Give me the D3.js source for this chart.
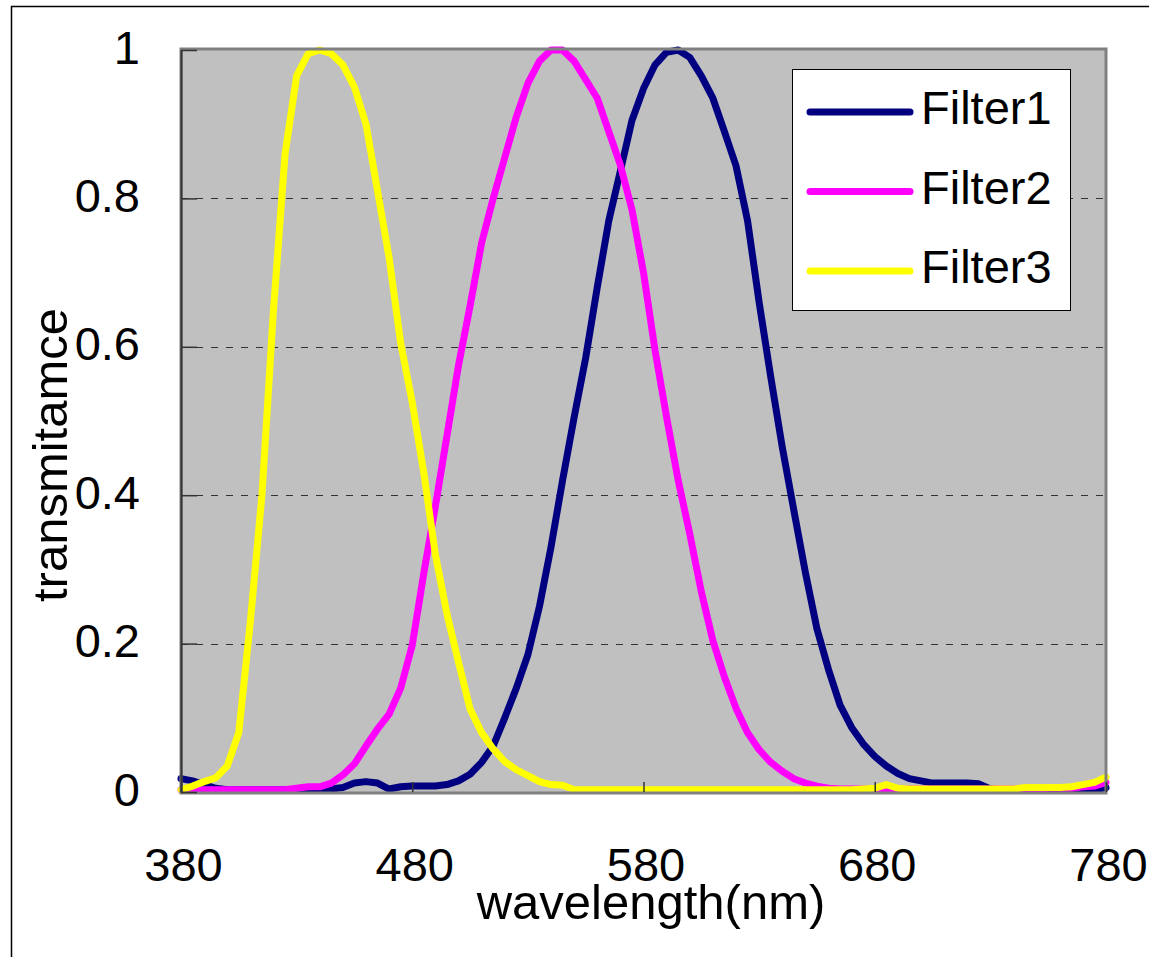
<!DOCTYPE html>
<html>
<head>
<meta charset="utf-8">
<script src="https://cdn.jsdelivr.net/npm/d3@7"></script>
<style>
  body { margin: 0; background: #fff; }
  text { font-family: "Liberation Sans", Arial, sans-serif; fill: #000; }
</style>
</head>
<body>
<div id="chart"></div>
<script>
// sample wavelengths (nm)
const wavelengths = [
  380, 385, 390, 395, 400, 405, 410, 415, 420, 425, 430, 435, 440, 445, 450, 455, 460, 465, 470, 475,
  480, 485, 490, 495, 500, 505, 510, 515, 520, 525, 530, 535, 540, 545, 550, 555, 560, 565, 570, 575,
  580, 585, 590, 595, 600, 605, 610, 615, 620, 625, 630, 635, 640, 645, 650, 655, 660, 665, 670, 675,
  680, 685, 690, 695, 700, 705, 710, 715, 720, 725, 730, 735, 740, 745, 750, 755, 760, 765, 770, 775,
  780
];

const filter1 = [
  0.018, 0.015, 0.010, 0.005, 0.003, 0.003, 0.003, 0.003, 0.003, 0.003,
  0.003, 0.003, 0.003, 0.004, 0.006, 0.012, 0.014, 0.012, 0.004, 0.007,
  0.008, 0.008, 0.008, 0.010, 0.015, 0.024, 0.040, 0.062, 0.100, 0.140,
  0.185, 0.250, 0.330, 0.420, 0.505, 0.585, 0.680, 0.770, 0.837, 0.905,
  0.948, 0.980, 0.997, 1.000, 0.990, 0.965, 0.935, 0.890, 0.844, 0.770,
  0.660, 0.560, 0.465, 0.380, 0.296, 0.220, 0.165, 0.117, 0.087, 0.065,
  0.048, 0.035, 0.025, 0.018, 0.015, 0.012, 0.012, 0.012, 0.012, 0.011,
  0.004, 0.003, 0.003, 0.003, 0.003, 0.003, 0.003, 0.003, 0.003, 0.003,
  0.006
];

const filter2 = [
  0.003, 0.003, 0.003, 0.003, 0.003, 0.003, 0.003, 0.003, 0.003, 0.003,
  0.005, 0.007, 0.007, 0.012, 0.023, 0.038, 0.062, 0.085, 0.105, 0.140,
  0.198, 0.295, 0.385, 0.480, 0.575, 0.655, 0.740, 0.800, 0.855, 0.910,
  0.955, 0.985, 1.000, 1.000, 0.985, 0.960, 0.935, 0.890, 0.845, 0.785,
  0.700, 0.595, 0.505, 0.420, 0.348, 0.270, 0.204, 0.155, 0.113, 0.080,
  0.057, 0.040, 0.028, 0.018, 0.012, 0.008, 0.005, 0.004, 0.004, 0.004,
  0.004, 0.004, 0.004, 0.004, 0.004, 0.004, 0.004, 0.004, 0.004, 0.004,
  0.004, 0.004, 0.004, 0.004, 0.004, 0.005, 0.005, 0.005, 0.007, 0.008,
  0.013
];

const filter3 = [
  0.003, 0.008, 0.014, 0.019, 0.035, 0.080, 0.230, 0.400, 0.650, 0.860,
  0.965, 0.995, 1.000, 0.995, 0.980, 0.950, 0.900, 0.810, 0.720, 0.605,
  0.525, 0.430, 0.320, 0.240, 0.175, 0.112, 0.080, 0.058, 0.041, 0.030,
  0.022, 0.014, 0.010, 0.009, 0.003, 0.003, 0.003, 0.003, 0.003, 0.003,
  0.003, 0.003, 0.003, 0.003, 0.003, 0.003, 0.003, 0.003, 0.003, 0.003,
  0.003, 0.003, 0.003, 0.003, 0.003, 0.003, 0.003, 0.003, 0.003, 0.004,
  0.005, 0.010, 0.005, 0.004, 0.004, 0.004, 0.004, 0.004, 0.004, 0.004,
  0.004, 0.004, 0.004, 0.006, 0.006, 0.006, 0.006, 0.007, 0.010, 0.013,
  0.020
];

const seriesNames = ["Filter1", "Filter2", "Filter3"];
const seriesColors = ["#000080", "#ff00ff", "#ffff00"];
const xTicks = [380, 480, 580, 680, 780];
const yTicks = [0, 0.2, 0.4, 0.6, 0.8, 1];
const yTickLabels = ["0", "0.2", "0.4", "0.6", "0.8", "1"];

const series = [filter1, filter2, filter3];

const width = 1149;
const height = 957;
const plot = { left: 181, right: 1106, top: 50, bottom: 792 };
const fontSize = 47;

const svg = d3
  .select("#chart")
  .append("svg")
  .attr("width", width)
  .attr("height", height);

// outer chart frame (runs off the page on the right and bottom)
svg
  .append("rect")
  .attr("x", 11.5)
  .attr("y", 6.5)
  .attr("width", width)
  .attr("height", height)
  .attr("fill", "#fff")
  .attr("stroke", "#000")
  .attr("stroke-width", 1.5);

const x = d3.scaleLinear().domain([380, 780]).range([plot.left, plot.right]);
const y = d3.scaleLinear().domain([0, 1]).range([plot.bottom, plot.top]);

// plot area background
svg
  .append("rect")
  .attr("x", plot.left)
  .attr("y", plot.top - 1)
  .attr("width", plot.right - plot.left)
  .attr("height", plot.bottom - plot.top + 2)
  .attr("fill", "#c0c0c0");

// dashed gridlines
svg
  .append("g")
  .selectAll("line")
  .data(yTicks.filter((d) => d > 0 && d < 1))
  .join("line")
  .attr("x1", plot.left)
  .attr("x2", plot.right)
  .attr("y1", (d) => Math.round(y(d)) + 0.5)
  .attr("y2", (d) => Math.round(y(d)) + 0.5)
  .attr("stroke", "#333")
  .attr("stroke-width", 1)
  .attr("stroke-dasharray", "7,8");

// curves
const line = d3
  .line()
  .x((d, i) => x(wavelengths[i]))
  .y((d) => y(d));

svg
  .append("g")
  .selectAll("path")
  .data(series)
  .join("path")
  .attr("d", line)
  .attr("fill", "none")
  .attr("stroke", (d, i) => seriesColors[i])
  .attr("stroke-width", 7)
  .attr("stroke-linejoin", "round")
  .attr("stroke-linecap", "round");

// plot area border on top of the curves
svg
  .append("rect")
  .attr("x", plot.left)
  .attr("y", plot.top - 1)
  .attr("width", plot.right - plot.left)
  .attr("height", plot.bottom - plot.top + 2)
  .attr("fill", "none")
  .attr("stroke", "#808080")
  .attr("stroke-width", 3);

// y axis
const yAxis = svg
  .append("g")
  .attr("transform", `translate(${plot.left},0)`)
  .call(
    d3
      .axisLeft(y)
      .tickValues(yTicks)
      .tickFormat((d, i) => yTickLabels[i])
      .tickSizeInner(-16)
      .tickSizeOuter(0)
      .tickPadding(41)
  );
yAxis.select(".domain").attr("stroke", "#333").attr("stroke-width", 2);
yAxis.selectAll(".tick line").attr("stroke", "#333").attr("stroke-width", 1.5);
yAxis.selectAll(".tick text").attr("font-size", fontSize).attr("dy", "0.28em");

// x axis
const xAxis = svg
  .append("g")
  .attr("transform", `translate(0,${plot.bottom})`)
  .call(
    d3
      .axisBottom(x)
      .tickValues(xTicks)
      .tickSizeInner(-10)
      .tickSizeOuter(0)
  );
xAxis.select(".domain").remove();
xAxis.selectAll(".tick line").attr("stroke", "#333").attr("stroke-width", 1.5);
xAxis
  .selectAll(".tick text")
  .attr("font-size", fontSize)
  .attr("y", 89)
  .attr("dy", 0)
  .attr("dx", 2);

// axis titles
svg
  .append("text")
  .attr("x", 651)
  .attr("y", 919)
  .attr("text-anchor", "middle")
  .attr("font-size", 49)
  .text("wavelength(nm)");

svg
  .append("text")
  .attr("transform", "translate(67,455) rotate(-90)")
  .attr("text-anchor", "middle")
  .attr("font-size", 49)
  .text("transmitamce");

// legend
const legend = svg.append("g");
legend
  .append("rect")
  .attr("x", 792.5)
  .attr("y", 69.5)
  .attr("width", 278)
  .attr("height", 241)
  .attr("fill", "#fff")
  .attr("stroke", "#000")
  .attr("stroke-width", 1);

const legendItems = legend
  .selectAll(".item")
  .data(seriesNames)
  .join("g")
  .attr("class", "item")
  .attr("transform", (d, i) => `translate(0,${112 + i * 79.5})`);

legendItems
  .append("line")
  .attr("x1", 810)
  .attr("x2", 910)
  .attr("stroke", (d, i) => seriesColors[i])
  .attr("stroke-width", 7)
  .attr("stroke-linecap", "round");

legendItems
  .append("text")
  .attr("x", 921)
  .attr("y", 12)
  .attr("font-size", fontSize)
  .text((d) => d);
</script>
</body>
</html>
